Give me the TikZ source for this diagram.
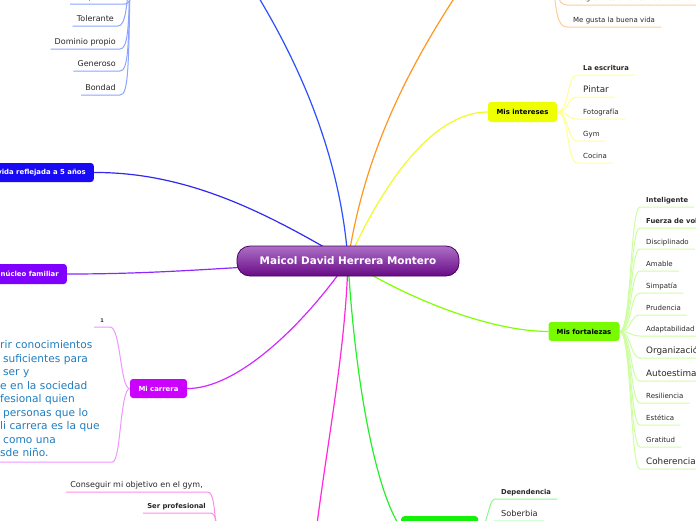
\documentclass[tikz,border=0pt]{standalone}
\usepackage{fontspec}
\setmainfont{DejaVu Sans}
\usetikzlibrary{calc}
\pgfdeclarelayer{bg}
\pgfsetlayers{bg,main}
\newcommand\myfs[1]{\fontsize{#1}{#1}\selectfont}
\definecolor{txt}{RGB}{40,40,40}
\definecolor{cblue}{RGB}{45,80,255}
\definecolor{kblue}{RGB}{140,165,255}
\definecolor{cvida}{RGB}{25,10,245}
\definecolor{lvida}{RGB}{50,40,240}
\definecolor{cnuc}{RGB}{128,0,255}
\definecolor{lnuc}{RGB}{140,40,255}
\definecolor{ccar}{RGB}{204,0,255}
\definecolor{lcar}{RGB}{210,40,255}
\definecolor{kcar}{RGB}{240,150,255}
\definecolor{lpink}{RGB}{255,40,220}
\definecolor{kpink}{RGB}{255,140,235}
\definecolor{lgreen}{RGB}{40,240,40}
\definecolor{cgreen}{RGB}{20,240,10}
\definecolor{kgreen}{RGB}{140,250,140}
\definecolor{llime}{RGB}{130,255,0}
\definecolor{clime}{RGB}{120,250,0}
\definecolor{klime}{RGB}{205,255,160}
\definecolor{lyel}{RGB}{240,250,40}
\definecolor{cyel}{RGB}{238,255,0}
\definecolor{kyel}{RGB}{255,255,150}
\definecolor{lorange}{RGB}{255,150,30}
\definecolor{korange}{RGB}{255,205,150}
\definecolor{partxt}{RGB}{30,125,190}
\definecolor{ctop}{RGB}{172,112,198}
\definecolor{cbot}{RGB}{105,10,135}
\definecolor{cdark}{RGB}{75,0,95}
\begin{document}
\begin{tikzpicture}[x=1pt,y=-1pt,
  kid/.style={font=\myfs{7}, text=txt, inner xsep=6pt, inner ysep=2pt, text depth=2.5pt, text height=5pt},
  kidb/.style={kid, font=\bfseries\myfs{6.8}},
  bigkid/.style={kid, font=\myfs{8.8}, text height=6.5pt},
  lkid/.style={kid, font=\myfs{8}, inner xsep=4pt},
  lkidb/.style={kid, font=\bfseries\myfs{6.8}, inner xsep=4pt},
  box/.style={rounded corners=3pt, inner sep=0pt, font=\bfseries\myfs{6.9}},
  mline/.style={line width=1.2pt},
  kline/.style={line width=1pt}]
\useasboundingbox (0,0) rectangle (696,520);

% central node
\node[draw=cdark, line width=0.8pt, rounded corners=13pt, top color=ctop, bottom color=cbot,
  minimum width=222pt, minimum height=30pt, inner sep=0pt, text=white, font=\bfseries\myfs{10.4}]
  (root) at (348,261) {Maicol David Herrera Montero};

% main boxes
\node[box, fill=cvida, text=white, minimum height=19pt, inner xsep=8pt, anchor=east] (vida) at (94,172.5) {Mi vida reflejada a 5 años};
\node[box, fill=cnuc, text=white, minimum height=20pt, inner xsep=8pt, anchor=east] (nuc) at (67,274) {Mi núcleo familiar};
\node[box, fill=ccar, text=white, minimum height=19pt, minimum width=57pt] (car) at (158.5,388.5) {Mi carrera};
\node[box, fill=cyel, text=black, minimum height=20pt, minimum width=69pt] (int) at (522.5,112) {Mis intereses};
\node[box, fill=clime, text=black, minimum height=19pt, minimum width=71pt] (fort) at (584,331.5) {Mis fortalezas};
\node[box, fill=cgreen, minimum height=24pt, minimum width=77pt, anchor=north west] (gbox) at (401,516) {};

% off-picture parents
\coordinate (blueN) at (235,-40);
\coordinate (blueP) at (130,-30);
\coordinate (orangeN) at (480,-40);
\coordinate (orangeP) at (552,-30);
\coordinate (pinkN) at (312,565);
\coordinate (pinkP) at (218,550);

% blue children (left, top)
\node[lkid, anchor=south east] (r0) at (125,4) {Respetuoso};
\node[lkid, anchor=south east] (r1) at (118,26) {Tolerante};
\node[lkid, anchor=south east] (r2) at (120,49) {Dominio propio};
\node[lkid, anchor=south east] (r3) at (120,71) {Generoso};
\node[lkid, anchor=south east] (r4) at (120,95) {Bondad};

% orange children
\node[kid, anchor=south west] (o1) at (567,5) {Me gusta estar en contacto con la naturaleza};
\node[kid, anchor=south west] (o2) at (567,27) {Me gusta la buena vida};

% intereses children
\node[kidb, anchor=south west] (i1) at (577,75) {La escritura};
\node[bigkid, anchor=south west] (i2) at (577,97) {Pintar};
\node[kid, anchor=south west] (i3) at (577,119) {Fotografía};
\node[kid, anchor=south west] (i4) at (577,141) {Gym};
\node[kid, anchor=south west] (i5) at (577,163) {Cocina};

% fortalezas children
\node[kidb, anchor=south west] (f1) at (640,207) {Inteligente};
\node[kidb, anchor=south west] (f2) at (640,228) {Fuerza de voluntad};
\node[kid, anchor=south west] (f3) at (640,249) {Disciplinado};
\node[kid, anchor=south west] (f4) at (640,271) {Amable};
\node[kid, anchor=south west] (f5) at (640,293) {Simpatía};
\node[kid, anchor=south west] (f6) at (640,315) {Prudencia};
\node[kid, anchor=south west] (f7) at (640,336) {Adaptabilidad};
\node[bigkid, anchor=south west] (f8) at (640,358) {Organización};
\node[bigkid, anchor=south west] (f9) at (640,381) {Autoestima};
\node[kid, anchor=south west] (f10) at (640,403) {Resiliencia};
\node[kid, anchor=south west] (f11) at (640,425) {Estética};
\node[kid, anchor=south west] (f12) at (640,447) {Gratitud};
\node[bigkid, anchor=south west] (f13) at (640,469) {Coherencia};

% green children
\node[kidb, anchor=south west] (g1) at (495,499) {Dependencia};
\node[bigkid, font=\myfs{8.2}, anchor=south west] (g2) at (495,521) {Soberbia};

% pink children
\node[lkid, anchor=south east] (p1) at (207,492) {Conseguir mi objetivo en el gym,};
\node[lkidb, anchor=south east] (p2) at (210,513) {Ser profesional};

% carrera children
\node[kidb, font=\bfseries\myfs{5}, anchor=south east] (one) at (110,327) {1};
\node[anchor=south west, inner xsep=0pt, inner ysep=5pt, text width=112pt, align=left,
  font=\fontsize{10.6}{13.5}\selectfont, text=partxt] (par) at (0,462)
  {rir conocimientos\\
   \hspace*{3pt}suficientes para\\
   \hspace*{3pt}ser y\\
   e en la sociedad\\
   \hspace*{0pt}fesional quien\\
   \hspace*{3pt}personas que lo\\
   \hspace*{0pt}li carrera es la que\\
   \hspace*{3pt}como una\\
   sde niño.};

\begin{pgfonlayer}{bg}
  \fill[white] (0,0) rectangle (696,520);
  % main connectors
  \draw[mline, cblue] (root.center) .. controls (340,150) and (295,50) .. (blueN);
  \draw[mline, lvida] (vida.east) .. controls (190,172) and (270,215) .. (root.center);
  \draw[mline, lnuc] (nuc.east) .. controls (160,274) and (220,268) .. (root.center);
  \draw[mline, lcar] (car.east) .. controls (235,389) and (300,330) .. (root.center);
  \draw[mline, lpink] (root.center) .. controls (345,360) and (325,450) .. (pinkN);
  \draw[mline, lgreen] (root.center) .. controls (355,380) and (375,490) .. (gbox.west);
  \draw[mline, llime] (root.center) .. controls (410,300) and (490,331) .. (fort.west);
  \draw[mline, lyel] (root.center) .. controls (380,190) and (430,112) .. (int.west);
  \draw[mline, lorange] (root.center) .. controls (365,150) and (410,60) .. (orangeN);

  % children connectors
  \foreach \n in {r0,r1,r2,r3,r4}
    \draw[kline, kblue] (blueP) .. controls ($(\n.south east)+(9,-22)$) and ($(\n.south east)+(8,0)$) .. (\n.south east) -- (\n.south west);
  \foreach \n in {o1,o2}
    \draw[kline, korange] (orangeP) .. controls ($(\n.south west)+(-11,-15)$) and ($(\n.south west)+(-10,0)$) .. (\n.south west) -- (\n.south east);
  \foreach \n in {i1,i2,i3,i4,i5}
    \draw[kline, kyel] (int.east) .. controls ($(int.east)+(12,0)$) and ($(\n.south west)+(-10,0)$) .. (\n.south west) -- (\n.south east);
  \foreach \n in {f1,f2,f3,f4,f5,f6,f7,f8,f9,f10,f11,f12,f13}
    \draw[kline, klime] (fort.east) .. controls ($(fort.east)+(12,0)$) and ($(\n.south west)+(-10,0)$) .. (\n.south west) -- (\n.south east);
  \foreach \n in {g1,g2}
    \draw[kline, kgreen] (gbox.east) .. controls ($(gbox.east)+(10,0)$) and ($(\n.south west)+(-7,0)$) .. (\n.south west) -- (\n.south east);
  \foreach \n in {p1,p2}
    \draw[kline, kpink] (pinkP) .. controls ($(\n.south east)+(7,12)$) and ($(\n.south east)+(7,0)$) .. (\n.south east) -- (\n.south west);
  \draw[kline, kcar] (car.west) .. controls (120,389) and (121,327) .. (one.south east) -- (one.south west);
  \draw[kline, kcar] (car.west) .. controls (120,389) and (121,462) .. (par.south east) -- (par.south west);
\end{pgfonlayer}
\end{tikzpicture}
\end{document}
